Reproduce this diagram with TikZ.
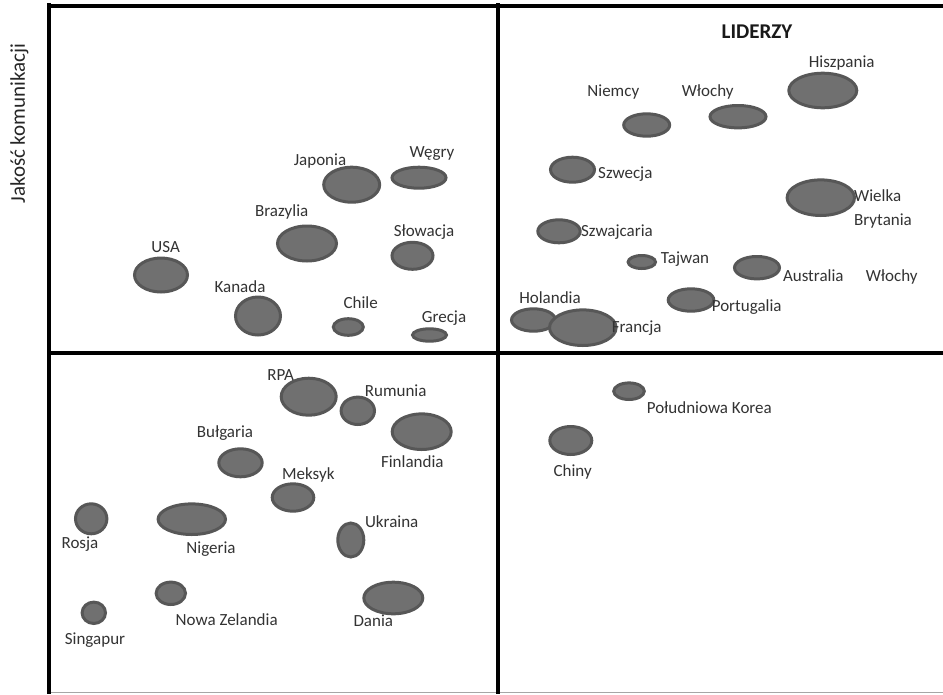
\documentclass[tikz,border=0pt]{standalone}
\usepackage{fontspec}
\setmainfont{Carlito}
\usepackage{tikz}

\begin{document}
\begin{tikzpicture}[x=1pt, y=-1pt,
  bubble/.style={fill=black!56, draw=black!66, line width=3pt},
  frameline/.style={line width=4.5pt, black},
  country/.style={text=black!80, inner sep=0pt, font=\fontsize{17}{24}\selectfont}]
\useasboundingbox (0,0) rectangle (943,694);
\fill [white] (0,0) rectangle (943,694);
% quadrants
\draw [black!35, line width=0.8pt] (47,692.5) -- (943,692.5);
\draw [frameline] (49,3) -- (49,694);
\draw [frameline] (47,6) -- (943,6);
\draw [frameline] (47,353) -- (943,353);
\draw [frameline] (498,3) -- (498,694);
\node [rotate=90, text=black!85, font=\fontsize{21}{24}\selectfont] (yaxis) at (19.5,123.5) {Jakość komunikacji};
\node [text=black!90, font=\fontsize{21}{24}\selectfont\bfseries] (leaders) at (757,32) {LIDERZY};
% top left
\draw [bubble] (351.7,184.7) ellipse (28 and 17.5);
\draw [bubble] (419,177.7) ellipse (27 and 10.5);
\draw [bubble] (307,243.5) ellipse (29.5 and 17.5);
\draw [bubble] (412.5,255.8) ellipse (20.5 and 13.5);
\draw [bubble] (161,275) ellipse (26.5 and 17);
\draw [bubble] (258,316) ellipse (22.5 and 19);
\draw [bubble] (348.3,327) ellipse (15 and 8.3);
\draw [bubble] (429.5,335) ellipse (17 and 6.2);
\node [country] (japonia) at (320,161) {Japonia};
\node [country] (wegry) at (432,154) {Węgry};
\node [country] (brazylia) at (281.7,212) {Brazylia};
\node [country] (slowacja) at (424,231.7) {Słowacja};
\node [country] (usa) at (165.7,247) {USA};
\node [country] (kanada) at (240,287) {Kanada};
\node [country] (chile) at (360.7,302.3) {Chile};
\node [country] (grecja) at (444,317.7) {Grecja};
% top right
\draw [bubble] (822.8,90.5) ellipse (34 and 17.3);
\draw [bubble] (646.7,125) ellipse (23 and 11.2);
\draw [bubble] (738,116.7) ellipse (28 and 11.2);
\draw [bubble] (572.5,169.7) ellipse (22 and 12.5);
\draw [bubble] (820.8,197.7) ellipse (33.7 and 17.8);
\draw [bubble] (559,231.3) ellipse (21.2 and 11.5);
\draw [bubble] (641.8,262) ellipse (13.7 and 6.5);
\draw [bubble] (757,267.7) ellipse (22.5 and 11.2);
\draw [bubble] (691,300) ellipse (22.8 and 11.2);
\draw [bubble] (533.5,320) ellipse (22 and 11.2);
\draw [bubble] (582.8,327.7) ellipse (33.3 and 17.8);
\node [country] (hiszpania) at (841.7,63.3) {Hiszpania};
\node [country] (niemcy) at (613.3,92) {Niemcy};
\node [country] (wlochy) at (707.7,92) {Włochy};
\node [country] (szwecja) at (625.3,174) {Szwecja};
\node [country, align=left, anchor=west] (wielka) at (854,208.7) {Wielka\\Brytania};
\node [country] (szwajcaria) at (617,232.3) {Szwajcaria};
\node [country] (tajwan) at (685,259.3) {Tajwan};
\node [country] (australia) at (813.3,276) {Australia};
\node [country] (wlochyb) at (891.7,277.3) {Włochy};
\node [country] (portugalia) at (746.7,306.7) {Portugalia};
\node [country] (holandia) at (550,297.3) {Holandia};
\node [country] (francja) at (636.7,328.3) {Francja};
% bottom left
\draw [bubble] (308.7,396.7) ellipse (27.5 and 18.5);
\draw [bubble] (357.8,410.8) ellipse (16.7 and 13.7);
\draw [bubble] (421.7,431.7) ellipse (29.5 and 17.8);
\draw [bubble] (240.5,462.8) ellipse (21.7 and 14);
\draw [bubble] (293,497.5) ellipse (20.8 and 13.7);
\draw [bubble] (91.2,518.8) ellipse (15.7 and 15);
\draw [bubble] (191.8,519.2) ellipse (33.7 and 15.3);
\draw [bubble] (350.8,540) ellipse (13 and 17);
\draw [bubble] (170.8,593.3) ellipse (14.7 and 11.2);
\draw [bubble] (93.8,612.8) ellipse (11.7 and 10.7);
\draw [bubble] (393.3,598) ellipse (29.5 and 15.8);
\node [country] (rpa) at (280.7,375) {RPA};
\node [country] (rumunia) at (395.7,390.7) {Rumunia};
\node [country] (finlandia) at (412.3,461.7) {Finlandia};
\node [country] (bulgaria) at (225,433.3) {Bułgaria};
\node [country] (meksyk) at (308.3,475) {Meksyk};
\node [country] (rosja) at (80,544.3) {Rosja};
\node [country] (nigeria) at (211,549) {Nigeria};
\node [country] (ukraina) at (391.7,521.7) {Ukraina};
\node [country] (nowazelandia) at (226.7,619.3) {Nowa Zelandia};
\node [country] (singapur) at (95,640) {Singapur};
\node [country] (dania) at (373.3,621) {Dania};
% bottom right
\draw [bubble] (629,391.2) ellipse (15.3 and 8.3);
\draw [bubble] (570.8,440.5) ellipse (21 and 14);
\node [country] (korea) at (709.3,407.3) {Południowa Korea};
\node [country] (chiny) at (572.7,471.7) {Chiny};
\end{tikzpicture}
\end{document}
